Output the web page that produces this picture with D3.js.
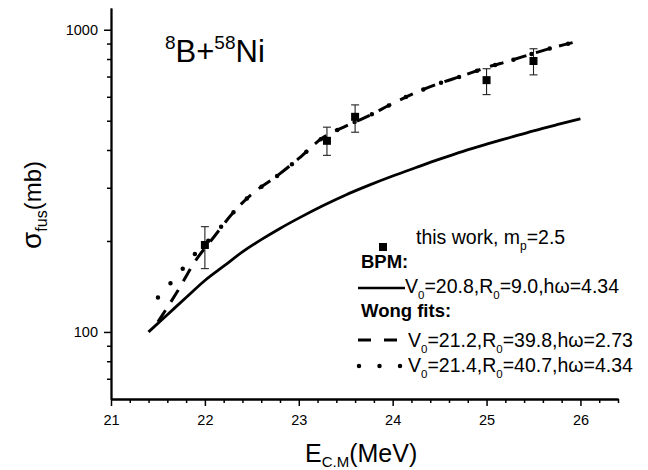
<!DOCTYPE html>
<html>
<head>
<meta charset="utf-8">
<script src="https://cdn.jsdelivr.net/npm/d3@7"></script>
<style>
  html, body { margin: 0; padding: 0; background: #fff; }
  svg { display: block; font-family: "Liberation Sans", Arial, sans-serif; }
</style>
</head>
<body>
<svg id="chart" width="648" height="470"></svg>
<script>
// ---- data ----
const expE = [22.0, 23.3, 23.6, 25.0, 25.5];
const expSigma = [194, 429, 515, 681, 788];
const expErrLow = [162, 384, 458, 610, 709];
const expErrHigh = [223, 476, 564, 743, 865];

const bpmE = [21.4, 21.6, 21.8, 22.0, 22.2, 22.4, 22.6, 22.8, 23.0, 23.25, 23.5, 23.75, 24.0, 24.25, 24.5, 24.75, 25.0, 25.25, 25.5, 25.75, 26.0];
const bpmSigma = [100, 114, 130, 148, 165, 184, 202, 220, 238, 261, 284, 306, 328, 350, 373, 396, 418, 440, 463, 485, 507];

const wong1E = [21.5, 21.7, 21.9, 22.1, 22.3, 22.5, 22.75, 23.0, 23.25, 23.5, 23.75, 24.0, 24.25, 24.5, 24.75, 25.0, 25.25, 25.5, 25.75, 26.0];
const wong1Sigma = [108, 135, 172, 207, 248, 286, 325, 375, 438, 480, 520, 570, 620, 665, 705, 750, 790, 835, 880, 919];

const wong2E = [21.5, 21.7, 21.9, 22.1, 22.3, 22.5, 22.75, 23.0, 23.25, 23.5, 23.75, 24.0, 24.25, 24.5, 24.75, 25.0, 25.25, 25.5, 25.75, 26.0];
const wong2Sigma = [130, 153, 182, 210, 248, 286, 325, 375, 438, 480, 520, 570, 620, 665, 705, 750, 790, 835, 880, 919];

const xMajorTicks = [21, 22, 23, 24, 25, 26];
const xMinorTicks = [21.2, 21.4, 21.6, 21.8, 22.2, 22.4, 22.6, 22.8, 23.2, 23.4, 23.6, 23.8, 24.2, 24.4, 24.6, 24.8, 25.2, 25.4, 25.6, 25.8, 26.2, 26.4];
const yMajorTicks = [100, 1000];
const yMinorTicks = [70, 80, 90, 200, 300, 400, 500, 600, 700, 800, 900];

// ---- layout ----
const svg = d3.select("#chart");
const x = d3.scaleLinear().domain([21, 26.4]).range([111, 618]);
const y = d3.scaleLog().domain([60, 1180]).range([399, 8]);

// axes
const axisStyle = g => {
  g.select(".domain").attr("stroke", "#000").attr("stroke-width", 1.8);
  g.selectAll(".tick line").attr("stroke", "#000").attr("stroke-width", 1.5);
  g.selectAll(".tick text").attr("fill", "#000").style("font-size", "14.5px")
    .style("font-family", "'Liberation Sans', Arial, sans-serif");
};

svg.append("g").attr("transform", "translate(0,399)")
  .call(d3.axisBottom(x).tickValues(xMinorTicks).tickSize(4).tickSizeOuter(0).tickFormat(""))
  .call(axisStyle);
svg.append("g").attr("transform", "translate(0,399)")
  .call(d3.axisBottom(x).tickValues(xMajorTicks).tickSize(7).tickSizeOuter(0).tickPadding(9).tickFormat(d3.format("d")))
  .call(axisStyle);

svg.append("g").attr("transform", "translate(111,0)")
  .call(d3.axisLeft(y).tickValues(yMinorTicks).tickSize(4).tickSizeOuter(0).tickFormat(""))
  .call(axisStyle);
svg.append("g").attr("transform", "translate(111,0)")
  .call(d3.axisLeft(y).tickValues(yMajorTicks).tickSize(7).tickSizeOuter(0).tickPadding(6).tickFormat(d3.format("d")))
  .call(axisStyle);

// curves
const line = d3.line().x(d => x(d[0])).y(d => y(d[1])).curve(d3.curveMonotoneX);
const pairs = (a, b) => a.map((v, i) => [v, b[i]]);

svg.append("path").datum(pairs(bpmE, bpmSigma))
  .attr("d", line).attr("fill", "none").attr("stroke", "#000").attr("stroke-width", 2.8);

svg.append("path").datum(pairs(wong1E, wong1Sigma))
  .attr("d", line).attr("fill", "none").attr("stroke", "#000").attr("stroke-width", 3)
  .attr("stroke-dasharray", "14,10");

svg.append("path").datum(pairs(wong2E, wong2Sigma))
  .attr("d", line).attr("fill", "none").attr("stroke", "#000").attr("stroke-width", 4.5)
  .attr("stroke-linecap", "round").attr("stroke-dasharray", "0,19");

// error bars
const exp = expE.map((e, i) => ({ e, s: expSigma[i], lo: expErrLow[i], hi: expErrHigh[i] }));
const eb = svg.append("g").attr("stroke", "#222").attr("stroke-width", 1.1);
eb.selectAll("line.v").data(exp).join("line")
  .attr("x1", d => x(d.e)).attr("x2", d => x(d.e)).attr("y1", d => y(d.lo)).attr("y2", d => y(d.hi));
eb.selectAll("line.t").data(exp).join("line")
  .attr("x1", d => x(d.e) - 4).attr("x2", d => x(d.e) + 4).attr("y1", d => y(d.hi)).attr("y2", d => y(d.hi));
eb.selectAll("line.b").data(exp).join("line")
  .attr("x1", d => x(d.e) - 4).attr("x2", d => x(d.e) + 4).attr("y1", d => y(d.lo)).attr("y2", d => y(d.lo));
svg.append("g").selectAll("rect").data(exp).join("rect")
  .attr("x", d => x(d.e) - 4).attr("y", d => y(d.s) - 4).attr("width", 8).attr("height", 8).attr("fill", "#000");

// title
const title = svg.append("text").attr("x", 165).attr("y", 62).attr("fill", "#000").style("font-size", "31px");
title.append("tspan").text("8").style("font-size", "19px").attr("dy", -13);
title.append("tspan").text("B+").attr("dy", 13);
title.append("tspan").text("58").style("font-size", "19px").attr("dy", -13);
title.append("tspan").text("Ni").attr("dy", 13);

// axis titles
const xt = svg.append("text").attr("x", 305).attr("y", 462).attr("fill", "#000").style("font-size", "25px");
xt.append("tspan").text("E");
xt.append("tspan").text("C.M").style("font-size", "15px").attr("dy", 5);
xt.append("tspan").text("(MeV)").attr("dy", -5);

const yt = svg.append("text").attr("transform", "translate(41,205) rotate(-90)")
  .attr("text-anchor", "middle").attr("fill", "#000").style("font-size", "24px");
yt.append("tspan").text("σ").style("font-size", "28px");
yt.append("tspan").text("fus").style("font-size", "16px").attr("dy", 6);
yt.append("tspan").text("(mb)").attr("dy", -6);

// legend
const lg = svg.append("g").attr("fill", "#000").style("font-size", "19.5px");
lg.append("rect").attr("x", 379).attr("y", 243).attr("width", 8).attr("height", 8);
const t1 = lg.append("text").attr("x", 416).attr("y", 244);
t1.append("tspan").text("this work, m");
t1.append("tspan").text("p").style("font-size", "12px").attr("dy", 6);
t1.append("tspan").text("=2.5").attr("dy", -6);

lg.append("text").attr("x", 361).attr("y", 268).style("font-weight", "bold").style("font-size", "18.5px").text("BPM:");
lg.append("line").attr("x1", 358).attr("x2", 405).attr("y1", 288).attr("y2", 288)
  .attr("stroke", "#000").attr("stroke-width", 2.5);

function paramText(xp, yp, v, r, hw) {
  const t = lg.append("text").attr("x", xp).attr("y", yp);
  t.append("tspan").text("V");
  t.append("tspan").text("0").style("font-size", "11.5px").attr("dy", 6);
  t.append("tspan").text("=" + v + ",R").attr("dy", -6);
  t.append("tspan").text("0").style("font-size", "11.5px").attr("dy", 6);
  t.append("tspan").text("=" + r + ",hω=" + hw).attr("dy", -6);
}
paramText(405, 293, "20.8", "9.0", "4.34");

lg.append("text").attr("x", 361).attr("y", 317).style("font-weight", "bold").style("font-size", "18.5px").text("Wong fits:");
lg.append("line").attr("x1", 358).attr("x2", 397).attr("y1", 340).attr("y2", 340)
  .attr("stroke", "#000").attr("stroke-width", 3).attr("stroke-dasharray", "13,13");
paramText(408, 347, "21.2", "39.8", "2.73");

lg.append("line").attr("x1", 359).attr("x2", 401).attr("y1", 366).attr("y2", 366)
  .attr("stroke", "#000").attr("stroke-width", 4.5).attr("stroke-linecap", "round")
  .attr("stroke-dasharray", "0,20.5");
paramText(408, 372, "21.4", "40.7", "4.34");
</script>
</body>
</html>
